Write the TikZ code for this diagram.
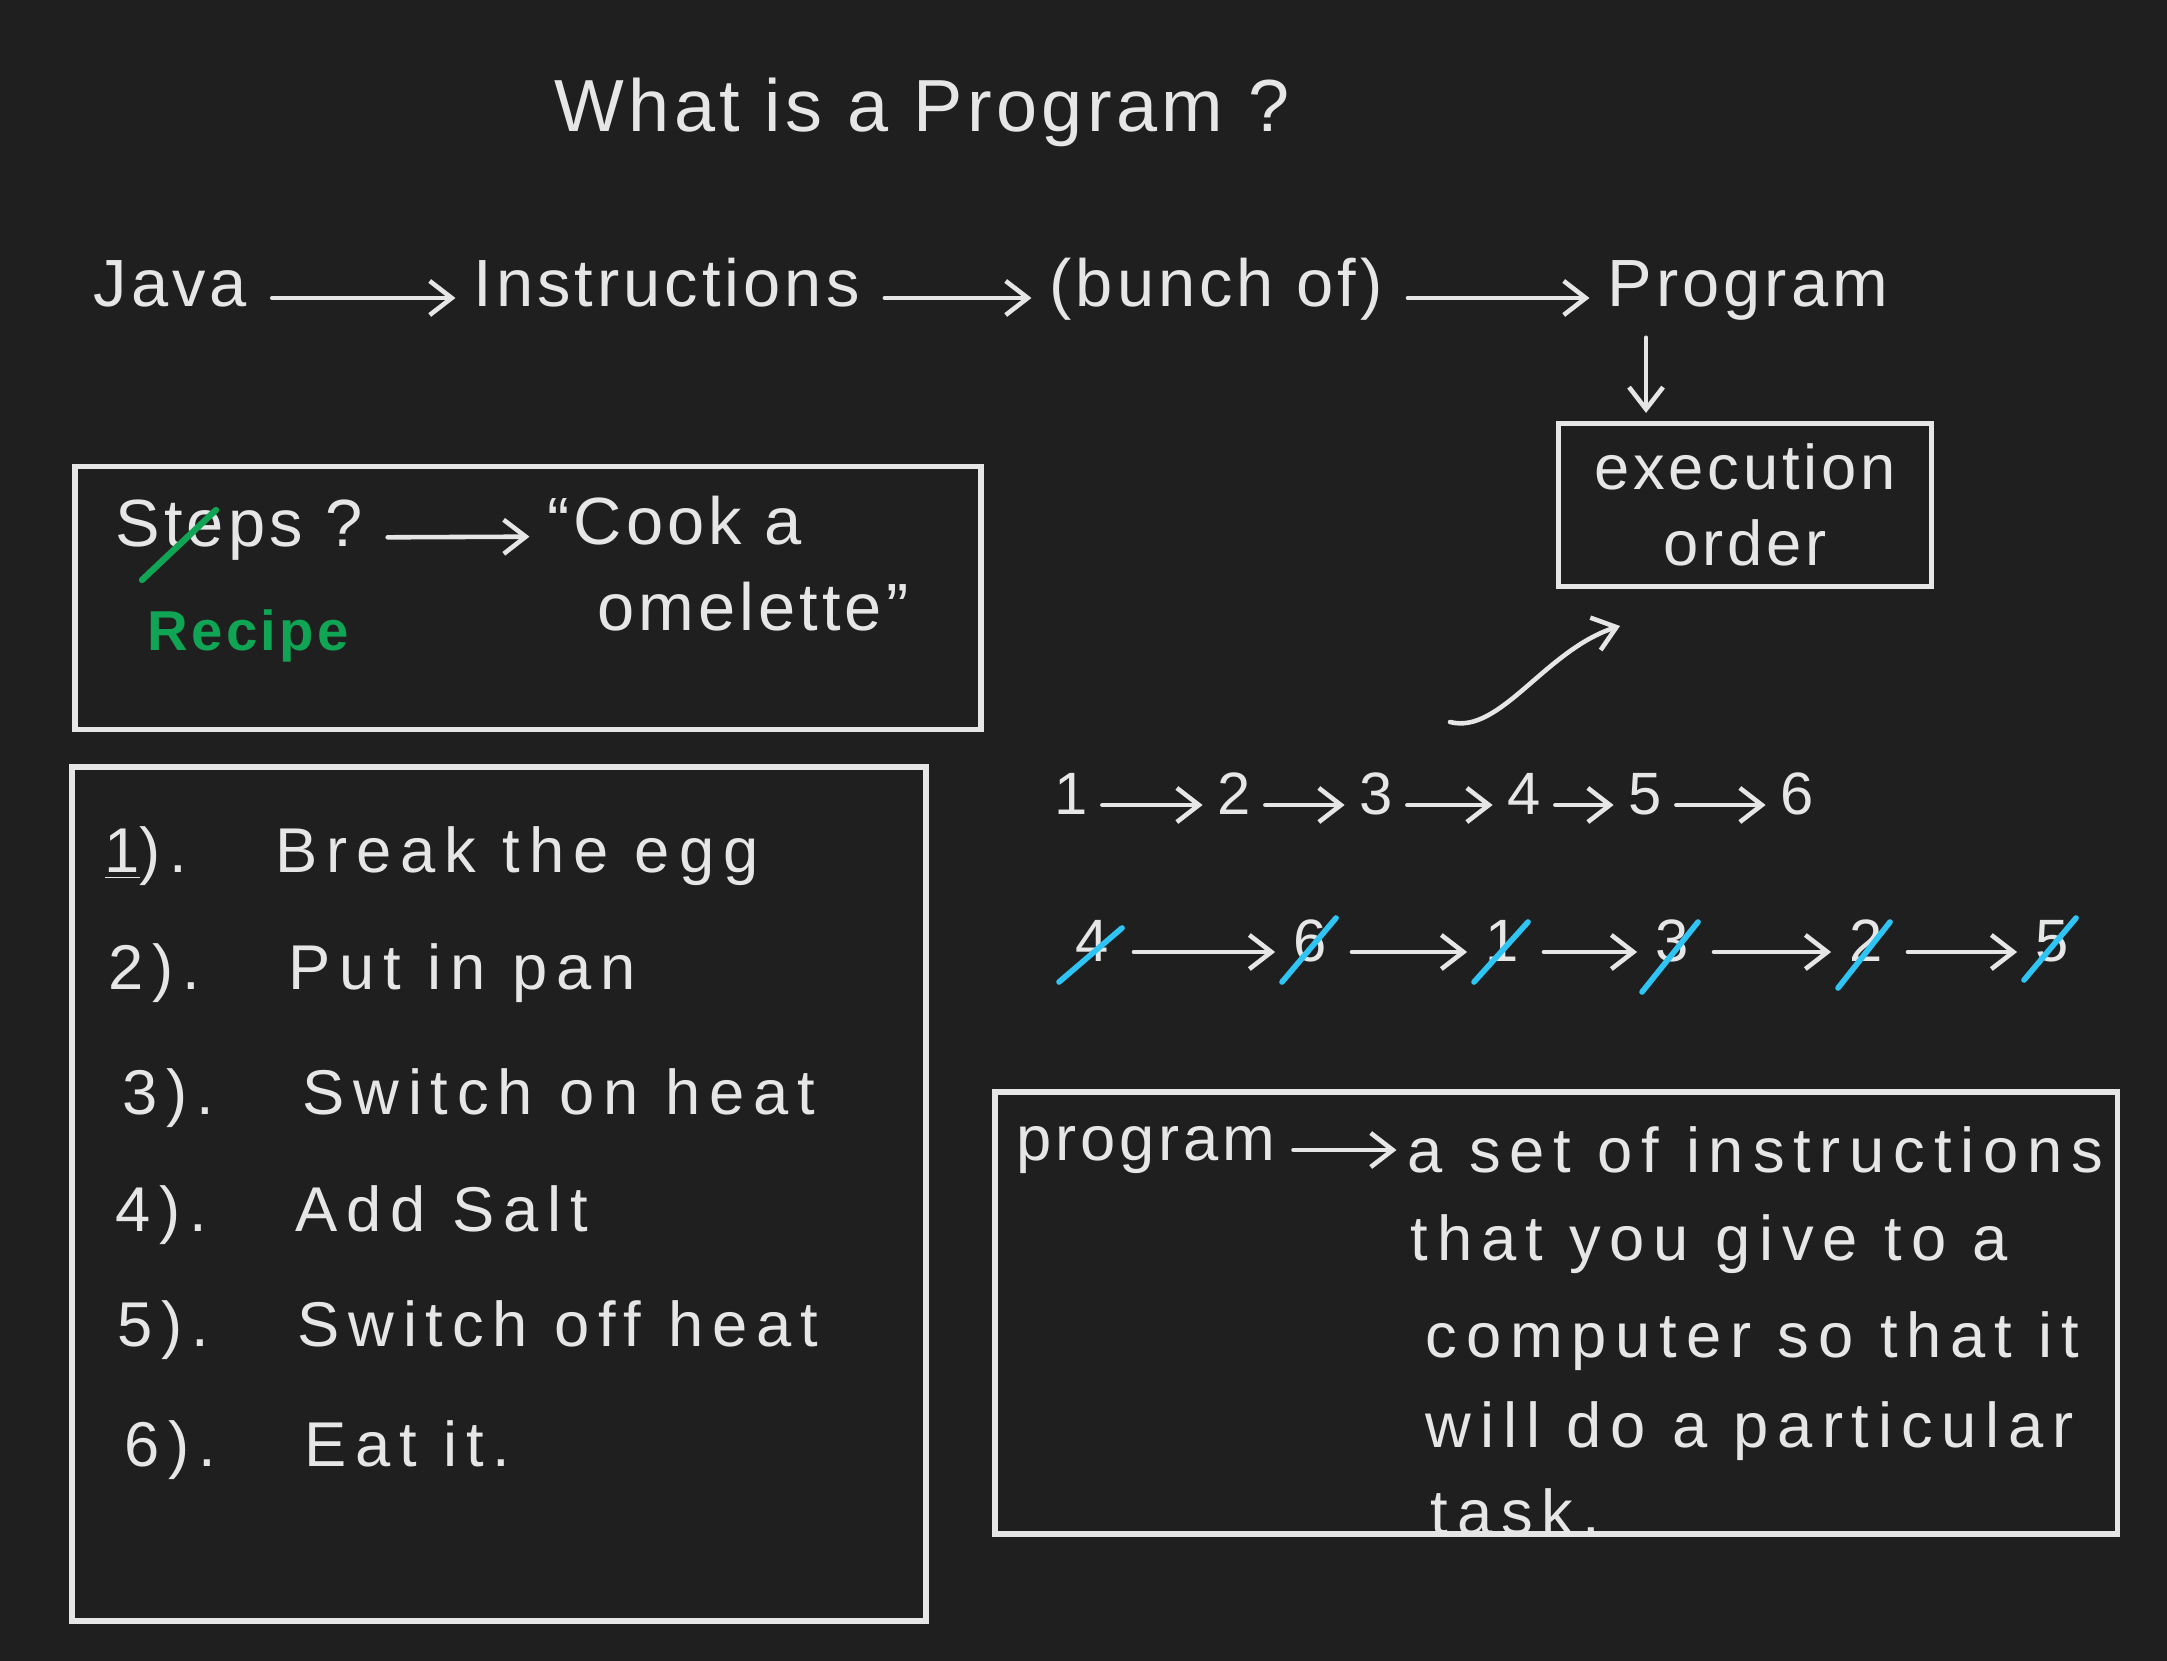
\documentclass[tikz,border=0pt]{standalone}
\usepackage{fontspec}
\usepackage{tikz}
\usetikzlibrary{arrows.meta, positioning, calc}
\newfontfamily\handfont[LetterSpace=6]{Liberation Sans}
\definecolor{board}{HTML}{1F1F1F}
\definecolor{chalk}{HTML}{E6E6E6}
\definecolor{recipegreen}{HTML}{0FA554}
\definecolor{strikeblue}{HTML}{2EC4F4}

\begin{document}
\begin{tikzpicture}[
        x=0.01cm, y=-0.01cm,
        title/.style={text=chalk, font=\handfont\fontsize{21}{26}\selectfont},
        word/.style={text=chalk, font=\handfont\fontsize{19}{23}\selectfont,
                     text height=1.5ex, text depth=0.4ex, inner sep=2pt},
        line/.style={text=chalk, font=\handfont\addfontfeatures{LetterSpace=14}\fontsize{18}{22}\selectfont,
                     anchor=west, inner sep=0pt},
        digit/.style={text=chalk, font=\handfont\fontsize{17}{20}\selectfont,
                      text height=1.5ex, text depth=0.2ex, inner sep=2pt},
        frame/.style={draw=chalk, line width=1.6pt, inner sep=0pt, outer sep=0pt},
        arr/.style={-{Straight Barb[length=2.2mm, width=3.4mm]}, line width=1.3pt, chalk, line cap=round,
                    shorten <=5pt, shorten >=3pt},
        greenline/.style={recipegreen, line width=1.8pt, line cap=round},
        blueline/.style={strikeblue, line width=1.6pt, line cap=round}
      ]
        \fill[board] (0,0) rectangle (2167,1661);

        \node[title] (head) at (922,112) {What is a Program ?};

        % top chain
        \node[word, anchor=west] (java) at (86,298) {Java};
        \node[word, anchor=west] (instr) at (466,298) {Instructions};
        \node[word, anchor=west] (bunch) at (1042,298) {(bunch of)};
        \node[word, anchor=west] (prog) at (1600,298) {Program};
        \draw[arr] (java) -- (instr);
        \draw[arr] (instr) -- (bunch);
        \draw[arr] (bunch) -- (prog);

        \node[frame, minimum width=3.73cm, minimum height=1.63cm, text=chalk, align=center,
              font=\handfont\fontsize{18}{21.6}\selectfont] (exec) at (1745,505) {execution\\order};
        \draw[arr] ([xshift=0.46cm]prog.south west) -- ([xshift=0.46cm]prog.south west |- exec.north);

        % recipe box
        \node[frame, minimum width=9.05cm, minimum height=2.63cm] (stepsbox) at (528,598) {};
        \node[word, anchor=west] (steps) at (108,538) {Steps ?};
        \node[word, anchor=west] (cook) at (540,536) {“Cook a};
        \node[word, anchor=west] (omelette) at (590,622) {omelette”};
        \node[text=recipegreen, font=\handfont\bfseries\fontsize{16}{20}\selectfont, anchor=west] (recipe) at (135,636) {Recipe};
        \draw[arr] (steps) -- (cook);
        \draw[greenline] (142,580) -- (216,510);

        % list of steps
        \node[frame, minimum width=8.53cm, minimum height=8.54cm] (listbox) at (499,1194) {};
        \node[line] (s1) at (104,856) {\underline{1}).~~ Break the egg};
        \node[line] (s2) at (108,973) {2).~~ Put in pan};
        \node[line] (s3) at (122,1098) {3).~~ Switch on heat};
        \node[line] (s4) at (115,1215) {4).~~ Add Salt};
        \node[line] (s5) at (117,1330) {5).~~ Switch off heat};
        \node[line] (s6) at (124,1450) {6).~~ Eat it.};

        % order of execution
        \node[digit] (n1) at (1071,805) {1};
        \node[digit] (n2) at (1234,805) {2};
        \node[digit] (n3) at (1376,805) {3};
        \node[digit] (n4) at (1524,805) {4};
        \node[digit] (n5) at (1645,805) {5};
        \node[digit] (n6) at (1797,805) {6};
        \draw[arr, shorten <=2pt, shorten >=2pt] (n1) -- (n2);
        \draw[arr, shorten <=2pt, shorten >=2pt] (n2) -- (n3);
        \draw[arr, shorten <=2pt, shorten >=2pt] (n3) -- (n4);
        \draw[arr, shorten <=2pt, shorten >=2pt] (n4) -- (n5);
        \draw[arr, shorten <=2pt, shorten >=2pt] (n5) -- (n6);

        \node[digit] (o1) at (1092,952) {4};
        \node[digit] (o2) at (1310,952) {6};
        \node[digit] (o3) at (1502,952) {1};
        \node[digit] (o4) at (1672,952) {3};
        \node[digit] (o5) at (1866,952) {2};
        \node[digit] (o6) at (2052,952) {5};
        \draw[arr] (o1) -- (o2);
        \draw[arr] (o2) -- (o3);
        \draw[arr] (o3) -- (o4);
        \draw[arr] (o4) -- (o5);
        \draw[arr] (o5) -- (o6);
        \draw[blueline] ([shift={(-33,30)}]o1.center) -- ([shift={(30,-24)}]o1.center);
        \draw[blueline] ([shift={(-28,30)}]o2.center) -- ([shift={(26,-34)}]o2.center);
        \draw[blueline] ([shift={(-28,30)}]o3.center) -- ([shift={(26,-30)}]o3.center);
        \draw[blueline] ([shift={(-30,40)}]o4.center) -- ([shift={(26,-30)}]o4.center);
        \draw[blueline] ([shift={(-28,36)}]o5.center) -- ([shift={(24,-30)}]o5.center);
        \draw[blueline] ([shift={(-28,28)}]o6.center) -- ([shift={(24,-34)}]o6.center);

        \coordinate (bendstart) at (1450,722);
        \coordinate (bendend) at (1620,626);
        \draw[arr, shorten <=0pt, shorten >=0pt] (bendstart) .. controls (1500,735) and (1545,650) .. (bendend);

        % definition box
        \node[frame, minimum width=11.22cm, minimum height=4.42cm] (defbox) at (1556,1313) {};
        \node[line, font=\handfont\fontsize{18}{22}\selectfont] (defword) at (1016,1150) {program};
        \node[line] (def1) at (1407,1150) {a set of instructions};
        \node[line] (def2) at (1410,1244) {that you give to a};
        \node[line] (def3) at (1425,1341) {computer so that it};
        \node[line] (def4) at (1425,1431) {will do a particular};
        \node[line] (def5) at (1430,1512) {task.};
        \draw[arr] (defword) -- (def1);
      \end{tikzpicture}
\end{document}
